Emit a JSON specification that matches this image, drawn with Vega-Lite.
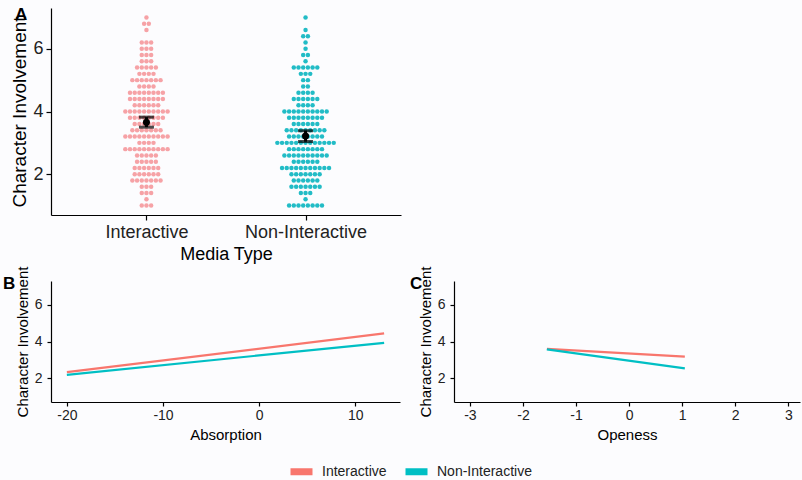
{
  "$schema": "https://vega.github.io/schema/vega-lite/v6.json",
  "background": "#fcfcfe",
  "padding": {"left": 3, "top": 5, "right": 2, "bottom": 2},
  "bounds": "flush",
  "spacing": 66,
  "config": {
    "font": "Liberation Sans",
    "view": {"stroke": null},
    "axis": {
      "grid": false,
      "domainColor": "#000000",
      "domainWidth": 1.2,
      "tickColor": "#000000",
      "tickWidth": 1.2,
      "tickSize": 4,
      "labelColor": "#222222",
      "titleColor": "#000000",
      "titleFontWeight": "normal",
      "labelFont": "Liberation Sans",
      "titleFont": "Liberation Sans"
    },
    "title": {"font": "Liberation Sans", "color": "#000000"}
  },
  "datasets": {
    "dots": [
      {"media":"Interactive","score":7.0},
      {"media":"Interactive","score":6.8},{"media":"Interactive","score":6.8},
      {"media":"Interactive","score":6.6},
      {"media":"Interactive","score":6.2},{"media":"Interactive","score":6.2},{"media":"Interactive","score":6.2},
      {"media":"Interactive","score":6.0},{"media":"Interactive","score":6.0},{"media":"Interactive","score":6.0},
      {"media":"Interactive","score":5.8},{"media":"Interactive","score":5.8},{"media":"Interactive","score":5.8},
      {"media":"Interactive","score":5.6},{"media":"Interactive","score":5.6},{"media":"Interactive","score":5.6},
      {"media":"Interactive","score":5.4},{"media":"Interactive","score":5.4},{"media":"Interactive","score":5.4},{"media":"Interactive","score":5.4},{"media":"Interactive","score":5.4},
      {"media":"Interactive","score":5.2},{"media":"Interactive","score":5.2},{"media":"Interactive","score":5.2},{"media":"Interactive","score":5.2},
      {"media":"Interactive","score":5.0},{"media":"Interactive","score":5.0},{"media":"Interactive","score":5.0},{"media":"Interactive","score":5.0},{"media":"Interactive","score":5.0},{"media":"Interactive","score":5.0},{"media":"Interactive","score":5.0},
      {"media":"Interactive","score":4.8},{"media":"Interactive","score":4.8},{"media":"Interactive","score":4.8},{"media":"Interactive","score":4.8},
      {"media":"Interactive","score":4.6},{"media":"Interactive","score":4.6},{"media":"Interactive","score":4.6},{"media":"Interactive","score":4.6},{"media":"Interactive","score":4.6},{"media":"Interactive","score":4.6},{"media":"Interactive","score":4.6},{"media":"Interactive","score":4.6},
      {"media":"Interactive","score":4.4},{"media":"Interactive","score":4.4},{"media":"Interactive","score":4.4},{"media":"Interactive","score":4.4},{"media":"Interactive","score":4.4},{"media":"Interactive","score":4.4},{"media":"Interactive","score":4.4},{"media":"Interactive","score":4.4},
      {"media":"Interactive","score":4.2},{"media":"Interactive","score":4.2},{"media":"Interactive","score":4.2},{"media":"Interactive","score":4.2},{"media":"Interactive","score":4.2},{"media":"Interactive","score":4.2},
      {"media":"Interactive","score":4.0},{"media":"Interactive","score":4.0},{"media":"Interactive","score":4.0},{"media":"Interactive","score":4.0},{"media":"Interactive","score":4.0},{"media":"Interactive","score":4.0},{"media":"Interactive","score":4.0},{"media":"Interactive","score":4.0},{"media":"Interactive","score":4.0},{"media":"Interactive","score":4.0},
      {"media":"Interactive","score":3.8},{"media":"Interactive","score":3.8},{"media":"Interactive","score":3.8},{"media":"Interactive","score":3.8},{"media":"Interactive","score":3.8},{"media":"Interactive","score":3.8},{"media":"Interactive","score":3.8},{"media":"Interactive","score":3.8},
      {"media":"Interactive","score":3.6},{"media":"Interactive","score":3.6},{"media":"Interactive","score":3.6},{"media":"Interactive","score":3.6},{"media":"Interactive","score":3.6},{"media":"Interactive","score":3.6},
      {"media":"Interactive","score":3.4},{"media":"Interactive","score":3.4},{"media":"Interactive","score":3.4},{"media":"Interactive","score":3.4},{"media":"Interactive","score":3.4},{"media":"Interactive","score":3.4},{"media":"Interactive","score":3.4},
      {"media":"Interactive","score":3.2},{"media":"Interactive","score":3.2},{"media":"Interactive","score":3.2},{"media":"Interactive","score":3.2},{"media":"Interactive","score":3.2},{"media":"Interactive","score":3.2},{"media":"Interactive","score":3.2},{"media":"Interactive","score":3.2},{"media":"Interactive","score":3.2},{"media":"Interactive","score":3.2},
      {"media":"Interactive","score":3.0},{"media":"Interactive","score":3.0},{"media":"Interactive","score":3.0},{"media":"Interactive","score":3.0},
      {"media":"Interactive","score":2.8},{"media":"Interactive","score":2.8},{"media":"Interactive","score":2.8},{"media":"Interactive","score":2.8},{"media":"Interactive","score":2.8},{"media":"Interactive","score":2.8},{"media":"Interactive","score":2.8},{"media":"Interactive","score":2.8},{"media":"Interactive","score":2.8},{"media":"Interactive","score":2.8},
      {"media":"Interactive","score":2.6},{"media":"Interactive","score":2.6},{"media":"Interactive","score":2.6},{"media":"Interactive","score":2.6},{"media":"Interactive","score":2.6},
      {"media":"Interactive","score":2.4},{"media":"Interactive","score":2.4},{"media":"Interactive","score":2.4},{"media":"Interactive","score":2.4},{"media":"Interactive","score":2.4},
      {"media":"Interactive","score":2.2},{"media":"Interactive","score":2.2},{"media":"Interactive","score":2.2},{"media":"Interactive","score":2.2},{"media":"Interactive","score":2.2},{"media":"Interactive","score":2.2},
      {"media":"Interactive","score":2.0},{"media":"Interactive","score":2.0},{"media":"Interactive","score":2.0},{"media":"Interactive","score":2.0},{"media":"Interactive","score":2.0},{"media":"Interactive","score":2.0},
      {"media":"Interactive","score":1.8},{"media":"Interactive","score":1.8},{"media":"Interactive","score":1.8},{"media":"Interactive","score":1.8},{"media":"Interactive","score":1.8},{"media":"Interactive","score":1.8},{"media":"Interactive","score":1.8},
      {"media":"Interactive","score":1.6},{"media":"Interactive","score":1.6},{"media":"Interactive","score":1.6},
      {"media":"Interactive","score":1.4},{"media":"Interactive","score":1.4},{"media":"Interactive","score":1.4},
      {"media":"Interactive","score":1.2},
      {"media":"Interactive","score":1.0},{"media":"Interactive","score":1.0},{"media":"Interactive","score":1.0},
      {"media":"Non-Interactive","score":7.0},
      {"media":"Non-Interactive","score":6.6},
      {"media":"Non-Interactive","score":6.4},{"media":"Non-Interactive","score":6.4},
      {"media":"Non-Interactive","score":6.2},
      {"media":"Non-Interactive","score":6.0},
      {"media":"Non-Interactive","score":5.8},{"media":"Non-Interactive","score":5.8},
      {"media":"Non-Interactive","score":5.6},
      {"media":"Non-Interactive","score":5.4},{"media":"Non-Interactive","score":5.4},{"media":"Non-Interactive","score":5.4},{"media":"Non-Interactive","score":5.4},{"media":"Non-Interactive","score":5.4},{"media":"Non-Interactive","score":5.4},
      {"media":"Non-Interactive","score":5.2},{"media":"Non-Interactive","score":5.2},{"media":"Non-Interactive","score":5.2},
      {"media":"Non-Interactive","score":5.0},{"media":"Non-Interactive","score":5.0},
      {"media":"Non-Interactive","score":4.8},{"media":"Non-Interactive","score":4.8},
      {"media":"Non-Interactive","score":4.6},{"media":"Non-Interactive","score":4.6},{"media":"Non-Interactive","score":4.6},{"media":"Non-Interactive","score":4.6},
      {"media":"Non-Interactive","score":4.4},{"media":"Non-Interactive","score":4.4},{"media":"Non-Interactive","score":4.4},{"media":"Non-Interactive","score":4.4},{"media":"Non-Interactive","score":4.4},{"media":"Non-Interactive","score":4.4},
      {"media":"Non-Interactive","score":4.2},{"media":"Non-Interactive","score":4.2},{"media":"Non-Interactive","score":4.2},{"media":"Non-Interactive","score":4.2},
      {"media":"Non-Interactive","score":4.0},{"media":"Non-Interactive","score":4.0},{"media":"Non-Interactive","score":4.0},{"media":"Non-Interactive","score":4.0},{"media":"Non-Interactive","score":4.0},{"media":"Non-Interactive","score":4.0},{"media":"Non-Interactive","score":4.0},{"media":"Non-Interactive","score":4.0},{"media":"Non-Interactive","score":4.0},{"media":"Non-Interactive","score":4.0},
      {"media":"Non-Interactive","score":3.8},{"media":"Non-Interactive","score":3.8},{"media":"Non-Interactive","score":3.8},{"media":"Non-Interactive","score":3.8},{"media":"Non-Interactive","score":3.8},{"media":"Non-Interactive","score":3.8},{"media":"Non-Interactive","score":3.8},{"media":"Non-Interactive","score":3.8},
      {"media":"Non-Interactive","score":3.6},{"media":"Non-Interactive","score":3.6},{"media":"Non-Interactive","score":3.6},{"media":"Non-Interactive","score":3.6},{"media":"Non-Interactive","score":3.6},{"media":"Non-Interactive","score":3.6},
      {"media":"Non-Interactive","score":3.4},{"media":"Non-Interactive","score":3.4},{"media":"Non-Interactive","score":3.4},{"media":"Non-Interactive","score":3.4},{"media":"Non-Interactive","score":3.4},{"media":"Non-Interactive","score":3.4},{"media":"Non-Interactive","score":3.4},{"media":"Non-Interactive","score":3.4},{"media":"Non-Interactive","score":3.4},
      {"media":"Non-Interactive","score":3.2},{"media":"Non-Interactive","score":3.2},{"media":"Non-Interactive","score":3.2},{"media":"Non-Interactive","score":3.2},{"media":"Non-Interactive","score":3.2},{"media":"Non-Interactive","score":3.2},{"media":"Non-Interactive","score":3.2},{"media":"Non-Interactive","score":3.2},
      {"media":"Non-Interactive","score":3.0},{"media":"Non-Interactive","score":3.0},{"media":"Non-Interactive","score":3.0},{"media":"Non-Interactive","score":3.0},{"media":"Non-Interactive","score":3.0},{"media":"Non-Interactive","score":3.0},{"media":"Non-Interactive","score":3.0},{"media":"Non-Interactive","score":3.0},{"media":"Non-Interactive","score":3.0},{"media":"Non-Interactive","score":3.0},{"media":"Non-Interactive","score":3.0},{"media":"Non-Interactive","score":3.0},{"media":"Non-Interactive","score":3.0},
      {"media":"Non-Interactive","score":2.8},{"media":"Non-Interactive","score":2.8},{"media":"Non-Interactive","score":2.8},{"media":"Non-Interactive","score":2.8},{"media":"Non-Interactive","score":2.8},{"media":"Non-Interactive","score":2.8},{"media":"Non-Interactive","score":2.8},{"media":"Non-Interactive","score":2.8},
      {"media":"Non-Interactive","score":2.6},{"media":"Non-Interactive","score":2.6},{"media":"Non-Interactive","score":2.6},{"media":"Non-Interactive","score":2.6},{"media":"Non-Interactive","score":2.6},{"media":"Non-Interactive","score":2.6},{"media":"Non-Interactive","score":2.6},{"media":"Non-Interactive","score":2.6},{"media":"Non-Interactive","score":2.6},{"media":"Non-Interactive","score":2.6},
      {"media":"Non-Interactive","score":2.4},{"media":"Non-Interactive","score":2.4},{"media":"Non-Interactive","score":2.4},{"media":"Non-Interactive","score":2.4},{"media":"Non-Interactive","score":2.4},{"media":"Non-Interactive","score":2.4},
      {"media":"Non-Interactive","score":2.2},{"media":"Non-Interactive","score":2.2},{"media":"Non-Interactive","score":2.2},{"media":"Non-Interactive","score":2.2},{"media":"Non-Interactive","score":2.2},{"media":"Non-Interactive","score":2.2},{"media":"Non-Interactive","score":2.2},{"media":"Non-Interactive","score":2.2},{"media":"Non-Interactive","score":2.2},{"media":"Non-Interactive","score":2.2},{"media":"Non-Interactive","score":2.2},
      {"media":"Non-Interactive","score":2.0},{"media":"Non-Interactive","score":2.0},{"media":"Non-Interactive","score":2.0},{"media":"Non-Interactive","score":2.0},{"media":"Non-Interactive","score":2.0},{"media":"Non-Interactive","score":2.0},{"media":"Non-Interactive","score":2.0},
      {"media":"Non-Interactive","score":1.8},{"media":"Non-Interactive","score":1.8},{"media":"Non-Interactive","score":1.8},{"media":"Non-Interactive","score":1.8},{"media":"Non-Interactive","score":1.8},{"media":"Non-Interactive","score":1.8},
      {"media":"Non-Interactive","score":1.6},{"media":"Non-Interactive","score":1.6},{"media":"Non-Interactive","score":1.6},{"media":"Non-Interactive","score":1.6},{"media":"Non-Interactive","score":1.6},{"media":"Non-Interactive","score":1.6},{"media":"Non-Interactive","score":1.6},
      {"media":"Non-Interactive","score":1.4},{"media":"Non-Interactive","score":1.4},{"media":"Non-Interactive","score":1.4},
      {"media":"Non-Interactive","score":1.2},
      {"media":"Non-Interactive","score":1.0},{"media":"Non-Interactive","score":1.0},{"media":"Non-Interactive","score":1.0},{"media":"Non-Interactive","score":1.0},{"media":"Non-Interactive","score":1.0},{"media":"Non-Interactive","score":1.0},{"media":"Non-Interactive","score":1.0},{"media":"Non-Interactive","score":1.0}
    ],
    "summary": [
      {"media":"Interactive","mean":3.66,"lo":3.5,"hi":3.82},
      {"media":"Non-Interactive","mean":3.22,"lo":3.04,"hi":3.39}
    ],
    "absorption": [
      {"media":"Interactive","absorption":-20,"involvement":2.33},
      {"media":"Interactive","absorption":13,"involvement":4.44},
      {"media":"Non-Interactive","absorption":-20,"involvement":2.18},
      {"media":"Non-Interactive","absorption":13,"involvement":3.93}
    ],
    "openess": [
      {"media":"Interactive","openess":-1.55,"involvement":3.6},
      {"media":"Interactive","openess":1.05,"involvement":3.18},
      {"media":"Non-Interactive","openess":-1.55,"involvement":3.57},
      {"media":"Non-Interactive","openess":1.05,"involvement":2.53}
    ]
  },
  "resolve": {"scale": {"color": "independent"}},
  "vconcat": [
    {
      "width": 350,
      "height": 207,
      "title": {"text": "A", "anchor": "start", "frame": "group", "fontSize": 17, "fontWeight": "bold", "baseline": "alphabetic", "offset": 0, "dx": -36, "dy": 28.5},
      "layer": [
        {
          "data": {"name": "dots"},
          "transform": [
            {"window": [{"op": "row_number", "as": "i"}], "groupby": ["media", "score"]},
            {"joinaggregate": [{"op": "count", "as": "n"}], "groupby": ["media", "score"]},
            {"calculate": "datum.i - (datum.n + 1) / 2", "as": "slot"}
          ],
          "mark": {"type": "circle", "size": 20, "opacity": 1},
          "encoding": {
            "x": {"field": "media", "type": "nominal", "scale": {"type": "point", "padding": 0.6},
                  "axis": {"title": "Media Type", "labelAngle": 0, "labelFontSize": 18, "titleFontSize": 18, "labelPadding": 3, "titlePadding": 4, "tickSize": 5}},
            "xOffset": {"field": "slot", "type": "quantitative", "scale": {"domain": [-1, 1], "range": [-4.7, 4.7], "zero": false, "nice": false}},
            "y": {"field": "score", "type": "quantitative", "scale": {"domain": [0.7, 7.3], "nice": false, "zero": false},
                  "axis": {"values": [2, 4, 6], "title": "Character Involvement", "labelFontSize": 18, "titleFontSize": 19, "labelPadding": 3, "titlePadding": 3, "tickSize": 5}},
            "color": {"field": "media", "type": "nominal", "scale": {"domain": ["Interactive", "Non-Interactive"], "range": ["#f6a2a6", "#22bcc6"]}, "legend": null}
          }
        },
        {
          "data": {"name": "summary"},
          "mark": {"type": "rule", "color": "#000000", "strokeWidth": 3},
          "encoding": {
            "x": {"field": "media", "type": "nominal"},
            "y": {"field": "lo", "type": "quantitative"},
            "y2": {"field": "hi"}
          }
        },
        {
          "data": {"name": "summary"},
          "mark": {"type": "tick", "color": "#000000", "size": 15, "thickness": 3, "orient": "horizontal"},
          "encoding": {
            "x": {"field": "media", "type": "nominal"},
            "y": {"field": "lo", "type": "quantitative"}
          }
        },
        {
          "data": {"name": "summary"},
          "mark": {"type": "tick", "color": "#000000", "size": 15, "thickness": 3, "orient": "horizontal"},
          "encoding": {
            "x": {"field": "media", "type": "nominal"},
            "y": {"field": "hi", "type": "quantitative"}
          }
        },
        {
          "data": {"name": "summary"},
          "mark": {"type": "circle", "color": "#000000", "size": 50, "opacity": 1},
          "encoding": {
            "x": {"field": "media", "type": "nominal"},
            "y": {"field": "mean", "type": "quantitative"}
          }
        }
      ]
    },
    {
      "bounds": "flush",
      "spacing": 54,
      "hconcat": [
        {
          "width": 349,
          "height": 121,
          "title": {"text": "B", "anchor": "start", "frame": "group", "fontSize": 17, "fontWeight": "bold", "baseline": "alphabetic", "offset": 0, "dx": -48, "dy": 40},
          "data": {"name": "absorption"},
          "mark": {"type": "line", "strokeWidth": 2.2},
          "encoding": {
            "x": {"field": "absorption", "type": "quantitative", "scale": {"domain": [-21.65, 14.65], "nice": false, "zero": false},
                  "axis": {"values": [-20, -10, 0, 10], "labelExpr": "'' + datum.value", "title": "Absorption", "labelFontSize": 14, "titleFontSize": 15, "labelPadding": 2, "titlePadding": 5}},
            "y": {"field": "involvement", "type": "quantitative", "scale": {"domain": [0.7, 7.3], "nice": false, "zero": false},
                  "axis": {"values": [2, 4, 6], "title": "Character Involvement", "labelFontSize": 14, "titleFontSize": 15, "labelPadding": 5, "titlePadding": 4}},
            "color": {"field": "media", "type": "nominal", "scale": {"domain": ["Interactive", "Non-Interactive"], "range": ["#F8766D", "#00BFC4"]},
                      "legend": {"title": null, "orient": "none", "legendX": 236, "legendY": 176, "direction": "horizontal", "padding": 0,
                                 "symbolType": "M-1,0H1", "symbolSize": 484, "symbolStrokeWidth": 7, "labelFontSize": 14, "labelColor": "#222222",
                                 "labelOffset": 6, "columnPadding": 4}}
          }
        },
        {
          "width": 346,
          "height": 121,
          "title": {"text": "C", "anchor": "start", "frame": "group", "fontSize": 17, "fontWeight": "bold", "baseline": "alphabetic", "offset": 0, "dx": -44, "dy": 40},
          "data": {"name": "openess"},
          "mark": {"type": "line", "strokeWidth": 2.2},
          "encoding": {
            "x": {"field": "openess", "type": "quantitative", "scale": {"domain": [-3.3, 3.22], "nice": false, "zero": false},
                  "axis": {"values": [-3, -2, -1, 0, 1, 2, 3], "labelExpr": "'' + datum.value", "title": "Openess", "labelFontSize": 14, "titleFontSize": 15, "labelPadding": 2, "titlePadding": 5}},
            "y": {"field": "involvement", "type": "quantitative", "scale": {"domain": [0.7, 7.3], "nice": false, "zero": false},
                  "axis": {"values": [2, 4, 6], "title": "Character Involvement", "labelFontSize": 14, "titleFontSize": 15, "labelPadding": 5, "titlePadding": 4}},
            "color": {"field": "media", "type": "nominal"}
          }
        }
      ]
    }
  ]
}
